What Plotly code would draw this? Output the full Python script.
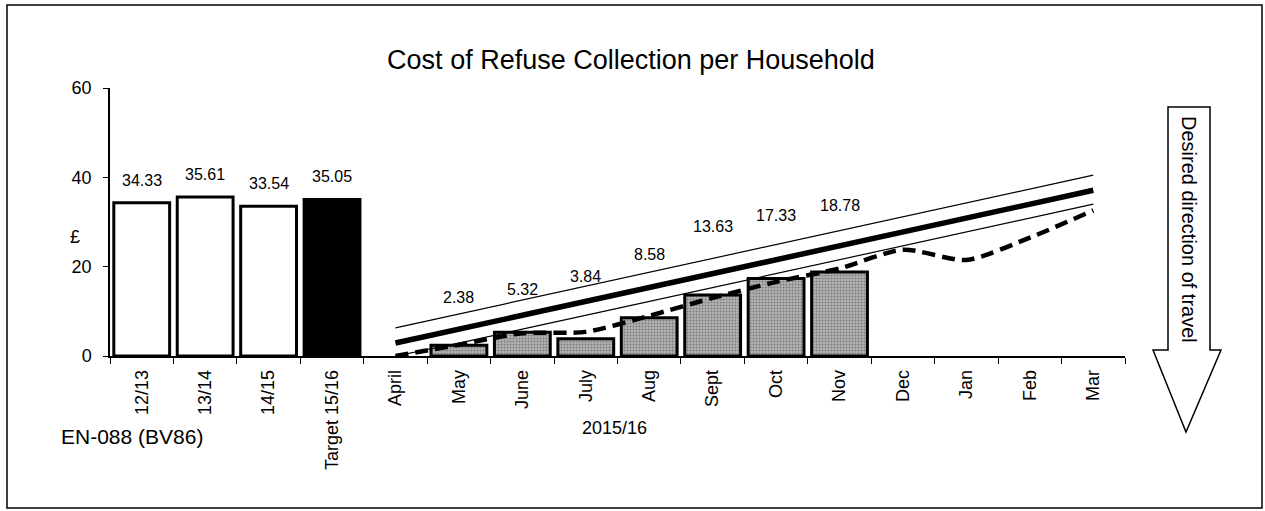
import plotly.graph_objects as go

# ---- data ----
categories = ["12/13", "13/14", "14/15", "Target 15/16", "April", "May", "June", "July",
              "Aug", "Sept", "Oct", "Nov", "Dec", "Jan", "Feb", "Mar"]
annual_cats = ["12/13", "13/14", "14/15", "Target 15/16"]
annual_vals = [34.33, 35.61, 33.54, 35.05]
months = ["April", "May", "June", "July", "Aug", "Sept", "Oct", "Nov", "Dec", "Jan", "Feb", "Mar"]
monthly_actual = [None, 2.38, 5.32, 3.84, 8.58, 13.63, 17.33, 18.78, None, None, None, None]
target_line = [2.9, 6.0, 9.1, 12.2, 15.3, 18.4, 21.6, 24.7, 27.8, 30.9, 34.0, 37.1]
upper_line = [6.3, 9.4, 12.5, 15.6, 18.7, 21.8, 25.0, 28.1, 31.2, 34.3, 37.4, 40.5]
lower_line = [0.0, 2.9, 6.0, 9.1, 12.2, 15.3, 18.5, 21.6, 24.7, 27.8, 30.9, 34.0]
previous_year = [0.0, 2.5, 5.1, 5.4, 9.0, 13.0, 16.6, 19.6, 23.8, 21.5, 26.5, 32.6]
y_ticks = [0, 20, 40, 60]

# layout-only positions for the monthly value labels (data units)
month_label_y = [None, 13.0, 14.8, 17.7, 22.8, 29.1, 31.5, 33.8, None, None, None, None]

FONT = "Liberation Sans, Arial, sans-serif"
W, H = 1265, 511
L, T = 110, 88
R = W - 1125
B = H - 356
PW, PH = W - L - R, H - T - B


def px(x):
    return (x - L) / PW


def py(y):
    return (H - B - y) / PH


fig = go.Figure()

# annual bars
fig.add_trace(go.Bar(
    x=annual_cats, y=annual_vals,
    marker=dict(color=["white", "white", "white", "black"],
                line=dict(color="black", width=3)),
    width=0.88, showlegend=False, hoverinfo="x+y",
))
# monthly bars
fig.add_trace(go.Bar(
    x=months, y=monthly_actual,
    marker=dict(color="#a0a0a0", line=dict(color="black", width=3),
                pattern=dict(shape=".", fgcolor="#454545", bgcolor="#b4b4b4",
                             size=3, solidity=0.4)),
    width=0.88, showlegend=False, hoverinfo="x+y",
))

# lines
fig.add_trace(go.Scatter(x=months, y=upper_line, mode="lines",
                         line=dict(color="black", width=1.2), showlegend=False))
fig.add_trace(go.Scatter(x=months, y=lower_line, mode="lines",
                         line=dict(color="black", width=1.2), showlegend=False))
fig.add_trace(go.Scatter(x=months, y=target_line, mode="lines",
                         line=dict(color="black", width=5.5), showlegend=False))
fig.add_trace(go.Scatter(x=months, y=previous_year, mode="lines",
                         line=dict(color="black", width=4.5, dash="13px,7px",
                                   shape="spline", smoothing=0.7),
                         showlegend=False))

annotations = []
for c, v in zip(annual_cats, annual_vals):
    annotations.append(dict(x=c, y=v, yshift=12, text=f"{v:.2f}", showarrow=False,
                            xanchor="center", yanchor="bottom",
                            font=dict(size=16, color="black", family=FONT)))
for m, v, ly in zip(months, monthly_actual, month_label_y):
    if v is None:
        continue
    annotations.append(dict(x=m, y=ly, text=f"{v:.2f}", showarrow=False,
                            xanchor="center", yanchor="middle",
                            font=dict(size=16, color="black", family=FONT)))

annotations += [
    dict(xref="paper", yref="paper", x=px(75), y=py(237), text="£", showarrow=False,
         xanchor="center", yanchor="middle",
         font=dict(size=18, color="black", family=FONT)),
    dict(xref="paper", yref="paper", x=px(614), y=py(428), text="2015/16", showarrow=False,
         xanchor="center", yanchor="middle",
         font=dict(size=18, color="black", family=FONT)),
    dict(xref="paper", yref="paper", x=px(132), y=py(436), text="EN-088 (BV86)", showarrow=False,
         xanchor="center", yanchor="middle",
         font=dict(size=21, color="black", family=FONT)),
    dict(xref="paper", yref="paper", x=px(1189), y=py(229), text="Desired direction of travel",
         showarrow=False, textangle=90, xanchor="center", yanchor="middle",
         font=dict(size=20, color="black", family=FONT)),
]

shapes = [
    # outer frame
    dict(type="rect", xref="paper", yref="paper", x0=px(7), x1=px(1262), y0=py(508), y1=py(5),
         line=dict(color="black", width=1.5), fillcolor="rgba(0,0,0,0)", layer="below"),
    # direction arrow
    dict(type="path", xref="paper", yref="paper",
         path=(f"M {px(1168)} {py(107)} L {px(1210)} {py(107)} L {px(1210)} {py(350)} "
               f"L {px(1221)} {py(350)} L {px(1186)} {py(432)} L {px(1153)} {py(350)} "
               f"L {px(1168)} {py(350)} Z"),
         line=dict(color="black", width=1.5), fillcolor="white"),
]

fig.update_layout(
    width=W, height=H,
    margin=dict(l=L, r=R, t=T, b=B, autoexpand=False),
    paper_bgcolor="white", plot_bgcolor="white",
    font=dict(family=FONT, color="black"),
    title=dict(text="Cost of Refuse Collection per Household", x=631 / W, xanchor="center",
               y=1 - 60 / H, yanchor="middle",
               font=dict(size=27, color="black", family=FONT)),
    barmode="overlay",
    annotations=annotations,
    shapes=shapes,
    showlegend=False,
)
fig.update_xaxes(
    type="category", categoryorder="array", categoryarray=categories,
    range=[-0.5, len(categories) - 0.5], automargin=False,
    showline=True, linecolor="black", linewidth=1.5,
    ticks="outside", ticklen=6, tickcolor="black", tickwidth=1.2, tickson="boundaries",
    tickangle=-90, tickfont=dict(size=18, color="black", family=FONT),
    showgrid=False, zeroline=False, ticklabelstandoff=5,
)
fig.update_yaxes(
    range=[0, 60], tickvals=y_ticks, automargin=False,
    showline=True, linecolor="black", linewidth=1.5,
    ticks="outside", ticklen=5, tickcolor="black", tickwidth=1.2,
    tickfont=dict(size=18, color="black", family=FONT),
    showgrid=False, zeroline=False, ticklabelstandoff=8,
)

fig.write_html("out.html", config={"displayModeBar": False},
               post_script="document.body.style.margin='0';")
